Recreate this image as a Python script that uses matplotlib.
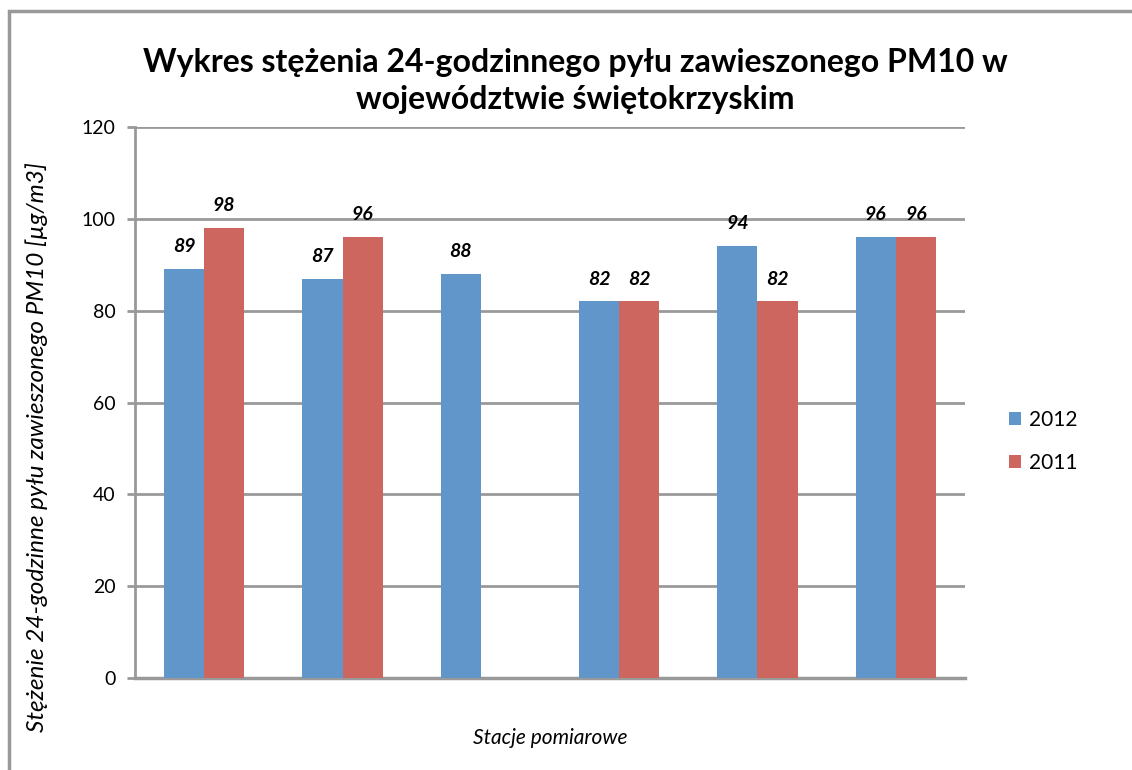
import matplotlib.pyplot as plt
import numpy as np
from matplotlib.patches import Rectangle

plt.rcParams['font.family'] = ['Lato', 'DejaVu Sans']

# dane
stacje = ['1', '2', '3', '4', '5', '6']
lata = ['2012', '2011']
pm10_2012 = [89, 87, 88, 82, 94, 96]
pm10_2011 = [98, 96, np.nan, 82, 82, 96]
kolory = ['#6096C9', '#CD665F']

fig = plt.figure(figsize=(11.32, 7.70), dpi=100)
ax = fig.add_axes([135 / 1132, 1 - 678 / 770, 830 / 1132, 551 / 770])

x = np.arange(len(stacje))
w = 0.29
for i, (wartosci, rok) in enumerate(zip([pm10_2012, pm10_2011], lata)):
    pos = x + (i - 0.5) * w
    ax.bar(pos, wartosci, w, color=kolory[i], label=rok, zorder=3)
    for p, v in zip(pos, wartosci):
        if not np.isnan(v):
            ax.annotate(str(int(v)), (p, v), xytext=(0, 10), textcoords='offset points',
                        ha='center', va='bottom', fontsize=14, fontweight='bold',
                        fontstyle='italic', zorder=4)

ax.set_xlim(-0.5, len(stacje) - 0.5)
ax.set_ylim(0, 120)
ax.set_yticks(range(0, 121, 20))
ax.set_xticks([])
ax.grid(axis='y', color='#999999', linewidth=2, zorder=0)
ax.tick_params(axis='y', length=6, width=2, color='#999999', labelsize=14, pad=8)
for s in ['top', 'right']:
    ax.spines[s].set_visible(False)
ax.spines['left'].set_color('#999999')
ax.spines['left'].set_linewidth(2)
ax.spines['bottom'].set_color('#999999')
ax.spines['bottom'].set_linewidth(2.5)

ax.set_ylabel('Stężenie 24-godzinne pyłu zawieszonego PM10 [µg/m3]', fontsize=17.5,
              fontstyle='italic')
ax.yaxis.set_label_coords(-0.105, 0.42)
fig.text(0.5 * (135 + 965) / 1132, 1 - 738 / 770, 'Stacje pomiarowe', fontsize=15,
         fontstyle='italic', ha='center', va='center')
fig.text(575 / 1132, 1 - 81 / 770,
         'Wykres stężenia 24-godzinnego pyłu zawieszonego PM10 w\nwojewództwie świętokrzyskim',
         fontsize=23, fontweight='bold', ha='center', va='center', linespacing=1.35)

leg = ax.legend(loc='center left', bbox_to_anchor=(1.03, 0.43), frameon=False,
                fontsize=15, handlelength=0.6, handleheight=0.6, labelspacing=1.1,
                handletextpad=0.4)

# ramka wykresu
fig.patches.append(Rectangle((9 / 1132, -0.1), 1.2, 1 - 11 / 770 + 0.1,
                             transform=fig.transFigure, fill=False,
                             edgecolor='#999999', linewidth=2.5))

fig.savefig('out.png', dpi=100)
